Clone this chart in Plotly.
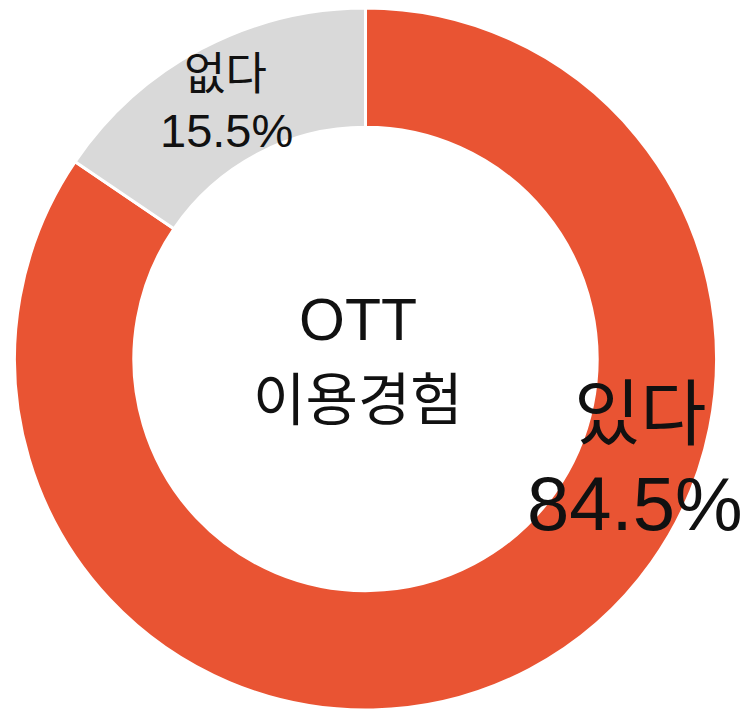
import plotly.graph_objects as go

labels = ["있다", "없다"]
values = [84.5, 15.5]
colors = ["#E95433", "#D9D9D9"]
center_lines = ["OTT", "이용경험"]

W, H = 750, 712
OFF = 8  # page body margin
FONT = "Liberation Sans, Noto Sans CJK KR, sans-serif"

def px(x, y):
    return (x - OFF) / W, 1 - (y - OFF) / H

cx, cy, r = 365.5, 359, 351
fig = go.Figure(go.Pie(
    labels=labels, values=values, hole=0.66, sort=False, direction="clockwise",
    rotation=0, marker=dict(colors=colors, line=dict(color="white", width=3)),
    textinfo="none", hoverinfo="label+percent", showlegend=False,
    domain=dict(x=[(cx - OFF - r) / W, (cx - OFF + r) / W],
                y=[max(0, 1 - (cy - OFF + r) / H), min(1, 1 - (cy - OFF - r) / H)]),
))

ann = []
def add(text, x, y, size):
    ax, ay = px(x, y)
    ann.append(dict(text=text, x=ax, y=ay, xref="paper", yref="paper", showarrow=False,
                    xanchor="center", yanchor="middle", font=dict(family=FONT, size=size, color="#111111")))

add(labels[0], 640, 414, 72)
add(f"{values[0]}%", 635, 503, 76)
add(labels[1], 225, 74, 45)
add(f"{values[1]}%", 226, 131, 47)
add(center_lines[0], 358, 320, 59)
add(center_lines[1], 358, 400, 57)

fig.update_layout(width=W, height=H, margin=dict(l=0, r=0, t=0, b=0),
                  paper_bgcolor="white", plot_bgcolor="white", annotations=ann)
fig.write_html("out.html")
